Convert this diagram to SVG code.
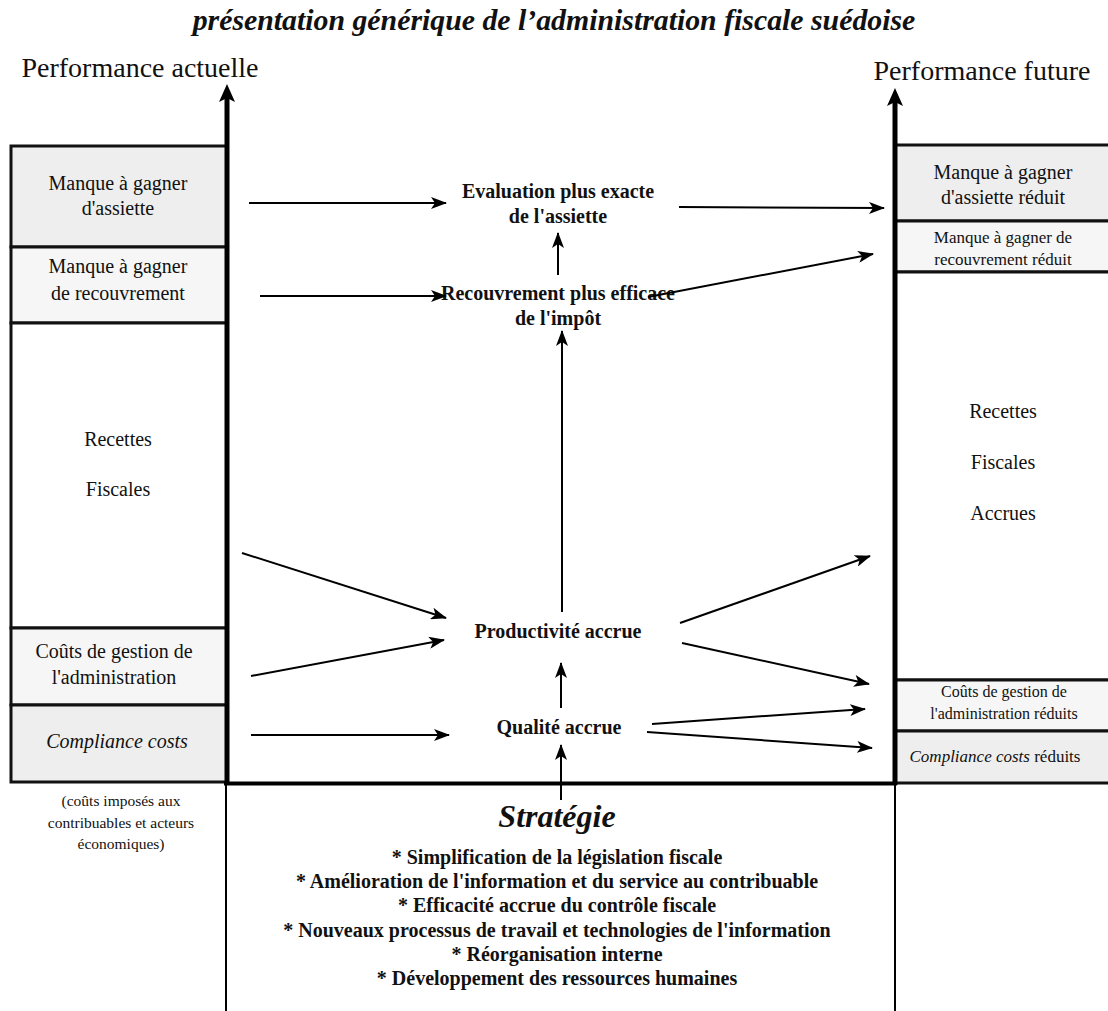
<svg xmlns="http://www.w3.org/2000/svg" width="1108" height="1011" viewBox="0 0 1108 1011">
<style>
text{font-family:"Liberation Serif","Times New Roman",serif;fill:#111;}
.box{stroke:#111;stroke-width:3;}
.b20{font-size:20px;text-anchor:middle;}
.b17{font-size:17px;text-anchor:middle;}
.b16{font-size:16px;text-anchor:middle;}
.lbl{font-size:20px;font-weight:bold;text-anchor:middle;}
.strat{font-size:20px;font-weight:bold;text-anchor:middle;}
.con{stroke:#000;stroke-width:2;fill:none;marker-end:url(#ah);}
.shade{fill:#eeeeee;}
.light{fill:#f6f6f6;}
</style>
<defs>
<marker id="ah" viewBox="0 0 16 12" refX="15" refY="6" markerWidth="16" markerHeight="12" markerUnits="userSpaceOnUse" orient="auto">
<path d="M0,0 L16,6 L0,12 L4,6 Z" fill="#000"/>
</marker>
</defs>
<rect width="1108" height="1011" fill="#fff"/>

<text x="554" y="30" style="font-size:29.8px;font-weight:bold;font-style:italic;text-anchor:middle">présentation générique de l’administration fiscale suédoise</text>

<g id="label-actuelle"><text x="140" y="77" style="font-size:28px;text-anchor:middle">Performance actuelle</text></g>
<g id="label-future"><text x="982" y="80" style="font-size:28px;text-anchor:middle">Performance future</text></g>

<!-- left column -->
<g id="l-assiette"><rect class="box shade" x="11" y="146" width="216" height="101"/>
<text class="b20" x="118" y="190">Manque à gagner</text><text class="b20" x="118" y="215">d'assiette</text></g>
<g id="l-recouvrement"><rect class="box light" x="11" y="247" width="216" height="76"/>
<text class="b20" x="118" y="273">Manque à gagner</text><text class="b20" x="118" y="300">de recouvrement</text></g>
<g id="l-recettes"><rect class="box" fill="#fff" x="11" y="323" width="216" height="305"/>
<text class="b20" x="118" y="446">Recettes</text><text class="b20" x="118" y="496">Fiscales</text></g>
<g id="l-couts"><rect class="box light" x="11" y="628" width="216" height="77"/>
<text class="b20" x="114" y="658">Coûts de gestion de</text><text class="b20" x="114" y="684">l'administration</text></g>
<g id="l-compliance"><rect class="box shade" x="11" y="705" width="216" height="77"/>
<text class="b20" x="117" y="748" font-style="italic">Compliance costs</text></g>
<g id="l-note"><text class="b16" x="121" y="806" style="font-size:15.5px">(coûts imposés aux</text>
<text class="b16" x="121" y="828" style="font-size:15.5px">contribuables et acteurs</text>
<text class="b16" x="121" y="849" style="font-size:15.5px">économiques)</text></g>

<!-- right column -->
<g id="r-assiette"><rect class="box shade" x="895" y="145" width="216" height="76"/>
<text class="b20" x="1003" y="179">Manque à gagner</text><text class="b20" x="1003" y="204">d'assiette réduit</text></g>
<g id="r-recouvrement"><rect class="box light" x="895" y="221" width="216" height="51"/>
<text class="b17" x="1003" y="243">Manque à gagner  de</text><text class="b17" x="1003" y="265">recouvrement réduit</text></g>
<g id="r-recettes"><rect class="box" fill="#fff" x="895" y="272" width="216" height="408"/>
<text class="b20" x="1003" y="418">Recettes</text><text class="b20" x="1003" y="469">Fiscales</text><text class="b20" x="1003" y="520">Accrues</text></g>
<g id="r-couts"><rect class="box light" x="895" y="680" width="216" height="51"/>
<text class="b16" x="1004" y="697">Coûts de gestion de</text><text class="b16" x="1004" y="719">l'administration réduits</text></g>
<g id="r-compliance"><rect class="box shade" x="895" y="731" width="216" height="52"/>
<text class="b17" x="995" y="762"><tspan font-style="italic">Compliance costs</tspan>  réduits</text></g>

<!-- axes and frame -->
<g id="axes">
<line x1="227" y1="98" x2="227" y2="785" stroke="#000" stroke-width="5"/>
<polygon points="219,102 227,84 235,102 227,98" fill="#000"/>
<line x1="895" y1="102" x2="895" y2="785" stroke="#000" stroke-width="5"/>
<polygon points="887,106 895,88 903,106 895,102" fill="#000"/>
<line x1="224" y1="783.5" x2="897" y2="783.5" stroke="#000" stroke-width="4"/>
<line x1="226" y1="785" x2="226" y2="1011" stroke="#000" stroke-width="2"/>
<line x1="895" y1="785" x2="895" y2="1011" stroke="#000" stroke-width="2"/>
</g>

<!-- central nodes -->
<g id="n-evaluation"><text class="lbl" x="558" y="198">Evaluation plus exacte</text><text class="lbl" x="558" y="223">de l'assiette</text></g>
<g id="n-recouvrement"><text class="lbl" x="558" y="300">Recouvrement plus efficace</text><text class="lbl" x="558" y="325">de l'impôt</text></g>
<g id="n-productivite"><text class="lbl" x="558" y="638">Productivité accrue</text></g>
<g id="n-qualite"><text class="lbl" x="559" y="734">Qualité accrue</text></g>
<g id="n-strategie">
<text x="557" y="827" style="font-size:32px;font-weight:bold;font-style:italic;text-anchor:middle">Stratégie</text>
<text class="strat" x="557" y="864">* Simplification de la législation fiscale</text>
<text class="strat" x="557" y="888">* Amélioration de l'information et du service au contribuable</text>
<text class="strat" x="557" y="912">* Efficacité accrue du contrôle fiscale</text>
<text class="strat" x="557" y="937">* Nouveaux processus de travail et technologies de l'information</text>
<text class="strat" x="557" y="961">* Réorganisation interne</text>
<text class="strat" x="557" y="985">* Développement des ressources humaines</text>
</g>

<!-- connectors -->
<g id="connectors">
<line class="con" x1="249" y1="203" x2="446" y2="203"/>
<line class="con" x1="679" y1="207" x2="884" y2="208"/>
<line class="con" x1="260" y1="296" x2="446" y2="296"/>
<line class="con" x1="648" y1="297" x2="873" y2="254"/>
<line class="con" x1="558" y1="275" x2="558" y2="233"/>
<line class="con" x1="562" y1="612" x2="562" y2="331"/>
<line class="con" x1="242" y1="553" x2="446" y2="618"/>
<line class="con" x1="251" y1="676" x2="444" y2="640"/>
<line class="con" x1="251" y1="735" x2="449" y2="735"/>
<line class="con" x1="561" y1="708" x2="561" y2="663"/>
<line class="con" x1="561" y1="800" x2="561" y2="745"/>
<line class="con" x1="680" y1="623" x2="870" y2="556"/>
<line class="con" x1="682" y1="643" x2="869" y2="684"/>
<line class="con" x1="652" y1="724" x2="865" y2="709"/>
<line class="con" x1="647" y1="732" x2="872" y2="748"/>
</g>
</svg>
